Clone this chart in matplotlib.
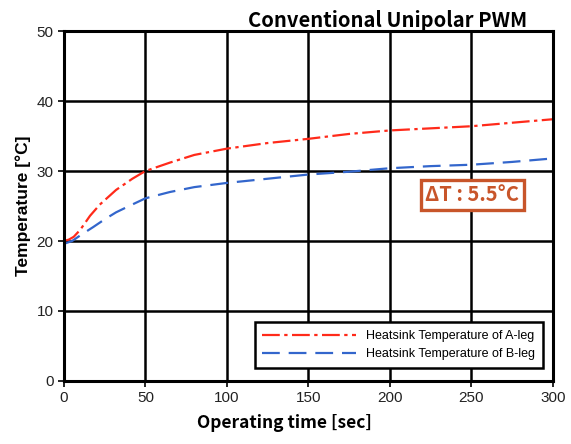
import matplotlib.pyplot as plt
import numpy as np

t_a = [0, 3, 6, 10, 16, 22, 32, 42, 50, 65, 80, 100, 125, 150, 175, 200, 225, 250, 275, 300]
temp_a = [20.0, 20.2, 20.6, 21.6, 23.6, 25.2, 27.3, 28.9, 30.0, 31.2, 32.3, 33.2, 34.0, 34.6, 35.3, 35.8, 36.1, 36.4, 36.9, 37.4]
t_b = [0, 5, 10, 18, 25, 32, 40, 50, 65, 80, 100, 125, 150, 175, 200, 225, 250, 275, 300]
temp_b = [19.6, 20.0, 20.8, 22.0, 23.1, 24.1, 25.0, 26.1, 27.0, 27.7, 28.3, 28.9, 29.5, 29.9, 30.4, 30.7, 30.9, 31.3, 31.8]
delta_label = "\u0394T : 5.5\u00b0C"

plt.rcParams['font.family'] = ['Liberation Sans', 'DejaVu Sans']
kfont = ['Noto Sans CJK KR', 'DejaVu Sans']

fig = plt.figure(figsize=(5.71, 4.44), dpi=100)
ax = fig.add_axes([0.112, 0.142, 0.856, 0.788])

ax.plot(t_a, temp_a, color='#ff2a1a', lw=1.6, dashes=[8, 2, 1.5, 2],
        label='Heatsink Temperature of A-leg')
ax.plot(t_b, temp_b, color='#3366cc', lw=1.6, dashes=[8, 4],
        label='Heatsink Temperature of B-leg')

ax.set_xlim(0, 300)
ax.set_ylim(0, 50)
ax.set_xticks(np.arange(0, 301, 50))
ax.set_yticks(np.arange(0, 51, 10))
ax.grid(True, color='black', lw=1.8)
ax.set_axisbelow(True)
for s in ax.spines.values():
    s.set_linewidth(2.2)
ax.tick_params(labelsize=11, length=4, width=1.2, colors='black')
for lab in ax.get_xticklabels() + ax.get_yticklabels():
    lab.set_color('#222222')

ax.set_xlabel('Operating time [sec]', fontsize=12.5, fontweight='bold', family=kfont)
ax.xaxis.set_label_coords(0.451, -0.095)
ax.set_ylabel('Temperature [\u00b0C]', fontsize=12.5, fontweight='bold', labelpad=4)
ax.set_title('Conventional Unipolar PWM', fontsize=14.5, fontweight='bold', family=kfont,
             loc='right', x=0.947, pad=0)

ax.text(250.5, 26.6, delta_label, fontsize=14.5, fontweight='bold', color='#c8552a',
        family=kfont, ha='center', va='center',
        bbox=dict(boxstyle='square,pad=0.22', fc='white', ec='#c8552a', lw=2.4))

leg = ax.legend(loc='lower right', fontsize=9, fancybox=False, framealpha=1,
                edgecolor='black', handlelength=7.5, borderpad=0.6, labelspacing=0.5,
                bbox_to_anchor=(0.992, 0.02))
leg.get_frame().set_linewidth(1.8)

fig.savefig('out.png', dpi=100)
